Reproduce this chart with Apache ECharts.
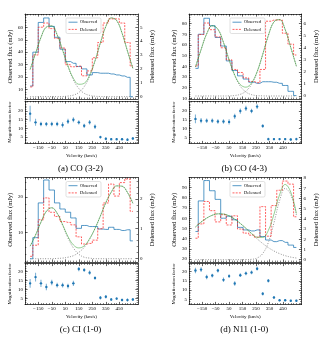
<!DOCTYPE html>
<html>
<head>
<meta charset="utf-8">
<script src="https://cdn.jsdelivr.net/npm/echarts@6/dist/echarts.min.js"></script>
<style>
html, body { margin: 0; padding: 0; background: #fff; }
#chart { width: 328px; height: 345px; }
</style>
</head>
<body>
<div id="chart"></div>
<script>
// channel centres (km/s)
var velAC = [-210, -170, -130, -90, -50, -10, 30, 70, 110, 150, 190, 230, 270, 310, 350, 390, 430, 470, 510, 550];
var velBD = [-200, -158.3, -116.7, -75, -33.3, 8.3, 50, 91.7, 133.3, 175, 216.7, 258.3, 300, 341.7, 383.3, 425, 466.7, 508.3, 550];

// (a) CO (3-2)
var obsCO32 = [12.7, 40, 64, 67.6, 60.8, 52, 42.4, 32.4, 31, 28.4, 26.5, 21.6, 23.5, 23, 23, 22.4, 21.6, 20.8, 19.7, 4];
var delCO32 = [0.7, 3.0, 5.0, 5.3, 4.9, 4.2, 3.5, 2.3, 2.15, 2.2, 1.5, 1.85, 2.8, 3.9, 5.3, 5.6, 5.6, 5.3, 3.9, 2.2];
var fitCO32 = [1.96, 3.11, 4.26, 5.01, 5.09, 4.45, 3.36, 2.21, 1.32, 0.89, 0.96, 1.55, 2.59, 3.88, 5.05, 5.67, 5.48, 4.57, 3.28, 2.03];
var blueCO32 = [1.96, 3.11, 4.26, 5.01, 5.09, 4.45, 3.35, 2.17, 1.21, 0.59, 0.24, 0.09, 0.03, 0.01, 0, 0, 0, 0, 0, 0];
var redCO32 = [0, 0, 0, 0, 0, 0, 0.01, 0.04, 0.11, 0.30, 0.72, 1.46, 2.56, 3.87, 5.05, 5.67, 5.48, 4.57, 3.28, 2.03];
var magCO32 = [18.5, 13.5, 12.5, 12.5, 12.5, 12.5, 12, 14, 15, 13.5, 11.5, 13.5, 11, 5, 4, 3.8, 3.8, 3.8, 3.5, 4.2];
var errCO32 = [4.5, 2, 1.3, 1.2, 1.3, 1.3, 1.5, 1.5, 1.5, 1.2, 1.2, 1.3, 1.3, 0.8, 0.8, 0.7, 0.7, 0.7, 0.8, 0.8];

// (b) CO (4-3)
var obsCO43 = [38, 70, 85, 78, 67, 59, 45, 36, 31, 28, 25, 24, 25.5, 25.5, 25, 24, 22, 16.5, 12.5];
var delCO43 = [2.5, 5.1, 6.05, 5.5, 4.9, 4.0, 3.0, 2.2, 1.95, 1.5, 1.2, 1.1, 2.2, 6.2, 6.3, 6.3, 5.2, 4.3, 3.4];
var fitCO43 = [2.40, 3.84, 5.15, 5.83, 5.54, 4.44, 3.00, 1.74, 0.95, 0.73, 1.08, 2.02, 3.46, 5.02, 6.15, 6.34, 5.51, 4.02, 2.47];
var blueCO43 = [2.40, 3.84, 5.15, 5.83, 5.54, 4.44, 2.99, 1.70, 0.81, 0.33, 0.11, 0.03, 0.01, 0, 0, 0, 0, 0, 0];
var redCO43 = [0, 0, 0, 0, 0, 0, 0.01, 0.04, 0.14, 0.40, 0.97, 1.99, 3.45, 5.02, 6.15, 6.34, 5.51, 4.02, 2.47];
var magCO43 = [15.5, 14.5, 14.5, 14.5, 14, 14, 13.8, 17, 20, 21.5, 20, 22.5, 11.5, 4, 4, 4, 4, 3.8, 4];
var errCO43 = [2.5, 1.5, 1.3, 1.3, 1.3, 1.3, 1.5, 1.5, 1.5, 1.5, 1.3, 1.3, 1, 0.8, 0.7, 0.7, 0.7, 0.7, 0.8];

// (c) CI (1-0)
var obsCI = [2.7, 8.6, 18.3, 24.7, 21.9, 18.3, 16.6, 15.7, 14.1, 11.2, 12, 11.7, 11.7, 11, 10.9, 11.5, 10.9, 10.6, 10.8, 7.7];
var delCI = [0.08, 0.45, 1.3, 2.03, 1.55, 1.41, 1.24, 1.21, 1.13, 0.73, 0.49, 0.51, 0.62, 1.0, 1.86, 2.49, 2.09, 2.54, 2.66, 1.58];
var fitCI = [0.42, 0.79, 1.22, 1.58, 1.70, 1.52, 1.14, 0.74, 0.46, 0.36, 0.43, 0.67, 1.01, 1.43, 1.87, 2.22, 2.43, 2.42, 2.21, 1.85];
var blueCI = [0.42, 0.79, 1.22, 1.58, 1.70, 1.51, 1.12, 0.69, 0.36, 0.15, 0.05, 0.02, 0, 0, 0, 0, 0, 0, 0, 0];
var redCI = [0, 0, 0, 0, 0, 0.01, 0.02, 0.05, 0.10, 0.21, 0.38, 0.65, 1.01, 1.43, 1.87, 2.22, 2.43, 2.42, 2.21, 1.85];
var magCI = [13.5, 17, 13.5, 11.5, 14, 12.5, 12.5, 12, 13.5, 21.5, 21, 19.5, 16.5, 5.5, 6, 4.5, 5, 4.2, 4.2, 4.5];
var errCI = [2.5, 2.5, 2, 1.8, 1.5, 1.3, 1.3, 1.3, 1.5, 1.2, 1, 1.2, 0.8, 1, 1, 0.8, 0.8, 0.7, 0.8, 0.8];

// (d) N11 (1-0)
var obsN11 = [47, 77, 97, 87, 78.5, 60, 62, 58.5, 51, 48.5, 47.5, 48.5, 42, 38.6, 37, 38, 36.3, 33.6, 31.3];
var delN11 = [2.1, 3.5, 5.7, 4.8, 3.7, 4.4, 3.4, 4.3, 3.0, 2.6, 2.4, 2.2, 5.2, 2.3, 5.3, 6.8, 7.7, 7.4, 4.2];
var fitN11 = [3.20, 3.68, 4.07, 4.35, 4.49, 4.47, 4.29, 3.97, 3.55, 3.07, 2.57, 2.20, 2.18, 2.87, 4.45, 6.36, 7.37, 6.61, 4.53];
var blueN11 = [3.20, 3.68, 4.07, 4.35, 4.49, 4.47, 4.29, 3.97, 3.55, 3.06, 2.54, 2.04, 1.58, 1.18, 0.85, 0.59, 0.39, 0.25, 0.16];
var redN11 = [0, 0, 0, 0, 0, 0, 0, 0, 0, 0.01, 0.03, 0.16, 0.60, 1.69, 3.60, 5.77, 6.98, 6.36, 4.37];
var magN11 = [20.5, 21, 17, 17.8, 20.5, 15.5, 17.5, 13.5, 18, 19, 19.5, 21.5, 8, 15, 6, 4.5, 4.5, 4.2, 4.2];
var errN11 = [1.5, 1.3, 1.2, 1, 1, 1.2, 1, 1.2, 1, 1, 1, 1, 1, 1, 0.6, 0.5, 0.5, 0.5, 0.5];

// tick labels
var velTicks = [-150, -50, 50, 150, 250, 350, 450];
var magTicks = [5, 10, 15, 20];
var obsTicksCO32 = [10, 20, 30, 40, 50, 60];
var delTicksCO32 = [0, 1, 2, 3, 4, 5];
var obsTicksCO43 = [10, 20, 30, 40, 50, 60, 70, 80];
var delTicksCO43 = [0, 1, 2, 3, 4, 5, 6];
var obsTicksCI = [10, 20];
var delTicksCI = [0, 1, 2];
var obsTicksN11 = [20, 30, 40, 50, 60, 70, 80, 90];
var delTicksN11 = [0, 1, 2, 3, 4, 5, 6, 7, 8];

var captions = ['(a) CO (3-2)', '(b) CO (4-3)', '(c) CI (1-0)', '(d) N11 (1-0)'];
var legendNames = ['Observed', 'Delensed'];

var panels = [
    {vel: velAC, obs: obsCO32, del: delCO32, fit: fitCO32, g1: blueCO32, g2: redCO32, mag: magCO32, err: errCO32,
     obsTicks: obsTicksCO32, delTicks: delTicksCO32, obsRange: [2.2, 70.8], delRange: [-0.17, 5.95], magRange: [1.3, 25.8]},
    {vel: velBD, obs: obsCO43, del: delCO43, fit: fitCO43, g1: blueCO43, g2: redCO43, mag: magCO43, err: errCO43,
     obsTicks: obsTicksCO43, delTicks: delTicksCO43, obsRange: [9.3, 89], delRange: [-0.25, 6.8], magRange: [1.5, 25.7]},
    {vel: velAC, obs: obsCI, del: delCI, fit: fitCI, g1: blueCI, g2: redCI, mag: magCI, err: errCI,
     obsTicks: obsTicksCI, delTicks: delTicksCI, obsRange: [1.8, 25.4], delRange: [-0.11, 2.71], magRange: [1.7, 24.6]},
    {vel: velBD, obs: obsN11, del: delN11, fit: fitN11, g1: blueN11, g2: redN11, mag: magN11, err: errN11,
     obsTicks: obsTicksN11, delTicks: delTicksN11, obsRange: [17, 100], delRange: [-0.23, 8.05], magRange: [2.2, 24.3]}
];

// placement of each sub-figure
var layout = [
    {x: 25, w: 113, top: 14, h: 85, btop: 101, bh: 42.5},
    {x: 189, w: 112.5, top: 14, h: 85, btop: 101, bh: 42.5},
    {x: 25, w: 113, top: 177.5, h: 84.5, btop: 263.5, bh: 41},
    {x: 189, w: 112.5, top: 177.5, h: 84.5, btop: 263.5, bh: 41}
];

var X_RANGE = [-248, 588];
var FONT = 'Liberation Serif';
var BLUE = '#1f77b4';
var RED = '#ff2020';
var RED_DASH = [2, 1.2];

function fmt(v) { return String(v).replace('-', '\u2212'); }

// minor ticks: 5 subdivisions of each major step, inside the axis range
function minors(ticks, range) {
    var step = ticks.length > 1 ? ticks[1] - ticks[0] : 10;
    var m = step / 5, out = [];
    var start = ticks[0] - Math.ceil((ticks[0] - range[0]) / m) * m;
    for (var v = start; v <= range[1] + 1e-9; v += m) {
        var r = Math.round(v * 1000) / 1000;
        if (r >= range[0] && ticks.indexOf(r) < 0) out.push(r);
    }
    return out;
}

function axis(o, ticks, labels, fontSize) {
    var a = {
        type: 'value',
        gridIndex: o.grid,
        position: o.pos,
        min: o.min,
        max: o.max,
        axisLine: {show: true, onZero: false, lineStyle: {color: '#000', width: 0.7}},
        axisTick: {show: true, inside: true, length: 2.6, customValues: ticks, lineStyle: {color: '#000', width: 0.6}},
        axisLabel: {show: labels, customValues: ticks, fontSize: fontSize || 5, fontFamily: FONT, color: '#000', margin: 2, formatter: fmt},
        splitLine: {show: false}
    };
    if (o.name) {
        a.name = o.name;
        a.nameLocation = 'middle';
        a.nameGap = o.gap;
        a.nameRotate = o.rotate;
        a.nameTextStyle = {fontFamily: FONT, fontSize: o.nameSize, color: '#000'};
    }
    return a;
}

function minorAxis(o, ticks) {
    var vals = minors(ticks, [o.min, o.max]);
    return {
        type: 'value', gridIndex: o.grid, position: o.pos, min: o.min, max: o.max,
        axisLine: {show: false, onZero: false},
        axisTick: {show: true, inside: true, length: 1.4, customValues: vals, lineStyle: {color: '#000', width: 0.5}},
        axisLabel: {show: false},
        splitLine: {show: false}
    };
}

function pairs(xs, ys) { return xs.map(function (x, k) { return [x, ys[k]]; }); }

function renderErr(params, api) {
    var x = api.value(0), y = api.value(1), e = api.value(2);
    var p = api.coord([x, y]);
    var lo = api.coord([x, y - e]);
    var hi = api.coord([x, y + e]);
    return {
        type: 'group',
        children: [
            {type: 'line', shape: {x1: p[0], y1: lo[1], x2: p[0], y2: hi[1]},
             style: {stroke: BLUE, lineWidth: 1.1, opacity: 0.55}},
            {type: 'circle', shape: {cx: p[0], cy: p[1], r: 1.2}, style: {fill: BLUE}}
        ]
    };
}

var option = {animation: false, backgroundColor: '#fff', grid: [], xAxis: [], yAxis: [], series: [], graphic: []};

panels.forEach(function (p, i) {
    var L = layout[i];
    var g = option.grid.length;
    option.grid.push({left: L.x, top: L.top, width: L.w, height: L.h});
    option.grid.push({left: L.x, top: L.btop, width: L.w, height: L.bh});

    var xi = option.xAxis.length;
    var xs = {min: X_RANGE[0], max: X_RANGE[1]};
    option.xAxis.push(axis(Object.assign({grid: g, pos: 'bottom'}, xs), velTicks, false));
    option.xAxis.push(axis(Object.assign({grid: g, pos: 'top'}, xs), velTicks, false));
    option.xAxis.push(axis(Object.assign({grid: g + 1, pos: 'bottom', name: 'Velocity (km/s)', gap: 10, rotate: 0, nameSize: 5}, xs), velTicks, true));
    option.xAxis.push(axis(Object.assign({grid: g + 1, pos: 'top'}, xs), velTicks, false));
    [g, g, g + 1, g + 1].forEach(function (gi, k) {
        option.xAxis.push(minorAxis(Object.assign({grid: gi, pos: k % 2 ? 'top' : 'bottom'}, xs), velTicks));
    });

    var yi = option.yAxis.length;
    var yo = {min: p.obsRange[0], max: p.obsRange[1]};
    var yd = {min: p.delRange[0], max: p.delRange[1]};
    var ym = {min: p.magRange[0], max: p.magRange[1]};
    option.yAxis.push(axis(Object.assign({grid: g, pos: 'left', name: 'Observed flux (mJy)', gap: 10, rotate: 90, nameSize: 6.5}, yo), p.obsTicks, true));
    option.yAxis.push(axis(Object.assign({grid: g, pos: 'right', name: 'Delensed flux (mJy)', gap: 11, rotate: 90, nameSize: 6.5}, yd), p.delTicks, true));
    option.yAxis.push(axis(Object.assign({grid: g + 1, pos: 'left', name: 'Magnification factor', gap: 13, rotate: 90, nameSize: 5}, ym), magTicks, true));
    option.yAxis.push(axis(Object.assign({grid: g + 1, pos: 'right'}, ym), magTicks, false));
    option.yAxis.push(minorAxis(Object.assign({grid: g, pos: 'left'}, yo), p.obsTicks));
    option.yAxis.push(minorAxis(Object.assign({grid: g, pos: 'right'}, yd), p.delTicks));
    option.yAxis.push(minorAxis(Object.assign({grid: g + 1, pos: 'left'}, ym), magTicks));
    option.yAxis.push(minorAxis(Object.assign({grid: g + 1, pos: 'right'}, ym), magTicks));

    var line = {type: 'line', xAxisIndex: xi, symbol: 'none', clip: true};
    var dotted = {color: '#777', width: 0.8, type: [1, 1.5]};
    option.series.push(Object.assign({}, line, {name: 'comp1', yAxisIndex: yi + 1, smooth: 0.4,
        data: pairs(p.vel, p.g1), lineStyle: dotted, z: 1}));
    option.series.push(Object.assign({}, line, {name: 'comp2', yAxisIndex: yi + 1, smooth: 0.4,
        data: pairs(p.vel, p.g2), lineStyle: dotted, z: 1}));
    option.series.push(Object.assign({}, line, {name: legendNames[0], yAxisIndex: yi, step: 'middle',
        data: pairs(p.vel, p.obs), lineStyle: {color: BLUE, width: 1, opacity: 0.75}, z: 2}));
    option.series.push(Object.assign({}, line, {name: legendNames[1], yAxisIndex: yi + 1, step: 'middle',
        data: pairs(p.vel, p.del), lineStyle: {color: RED, width: 1, opacity: 0.7, type: RED_DASH}, z: 3}));
    option.series.push(Object.assign({}, line, {name: 'fit', yAxisIndex: yi + 1, smooth: 0.4,
        data: pairs(p.vel, p.fit), lineStyle: {color: '#2ca02c', width: 1, opacity: 0.5}, z: 4}));

    option.series.push({
        type: 'custom', name: 'mag', xAxisIndex: xi + 2, yAxisIndex: yi + 2, clip: true,
        renderItem: renderErr,
        data: p.vel.map(function (v, k) { return [v, p.mag[k], p.err[k]]; })
    });

    // legend box
    var lx = L.x + 41, ly = L.top + 4;
    option.graphic.push({type: 'rect', x: lx, y: ly, z: 50,
        shape: {width: 35, height: 15.5, r: 1.5},
        style: {fill: 'rgba(255,255,255,0.85)', stroke: '#cccccc', lineWidth: 0.6}});
    [[BLUE, null, 0.75], [RED, RED_DASH, 0.7]].forEach(function (s, k) {
        var yy = ly + 4.2 + k * 7.2;
        option.graphic.push({type: 'line', z: 51,
            shape: {x1: lx + 2.5, y1: yy, x2: lx + 11.5, y2: yy},
            style: {stroke: s[0], lineWidth: 1, lineDash: s[1], opacity: s[2]}});
        option.graphic.push({type: 'text', x: lx + 14, y: yy, z: 51,
            style: {text: legendNames[k], font: '4.5px "' + FONT + '"', fill: '#000', verticalAlign: 'middle'}});
    });

    option.graphic.push({
        type: 'text', x: L.x + L.w / 2 - 1, y: L.btop + L.bh + 25,
        style: {text: captions[i], font: '9px "' + FONT + '"', fill: '#000', align: 'center', verticalAlign: 'middle'}
    });
});

var chart = echarts.init(document.getElementById('chart'));
chart.setOption(option);
</script>
</body>
</html>
